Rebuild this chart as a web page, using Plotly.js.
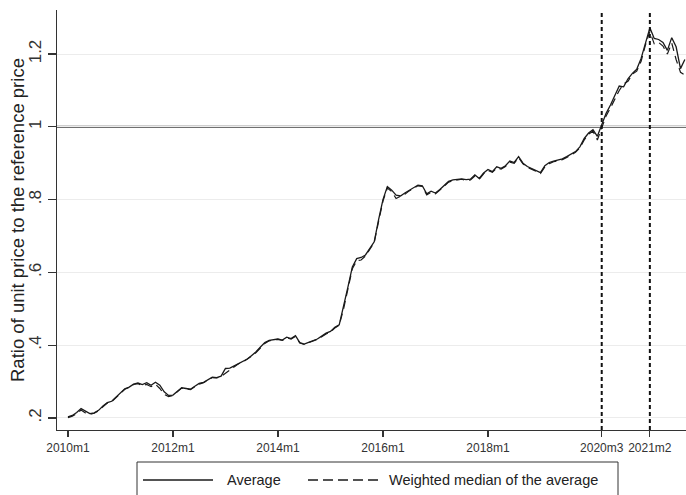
<!DOCTYPE html>
<html>
<head>
<meta charset="utf-8">
<script src="https://cdn.plot.ly/plotly-3.0.1.min.js"></script>
<style>html,body{margin:0;padding:0;background:#fff;}#chart{width:686px;height:495px;}</style>
</head>
<body>
<div id="chart"></div>
<script>
// Monthly index 0 = 2010m1
const startYear = 2010;
const nMonths = 142; // 2010m1 .. 2021m10

const average = [
0.203,0.207,0.215,0.226,0.219,0.212,0.214,0.221,0.233,0.242,0.246,0.258,
0.270,0.280,0.285,0.293,0.296,0.292,0.297,0.290,0.298,0.290,0.272,0.262,
0.263,0.272,0.283,0.281,0.279,0.287,0.295,0.298,0.304,0.312,0.311,0.315,
0.336,0.337,0.343,0.350,0.355,0.362,0.372,0.382,0.395,0.407,0.413,0.416,
0.417,0.414,0.422,0.418,0.426,0.407,0.403,0.408,0.412,0.417,0.425,0.433,
0.438,0.449,0.456,0.505,0.560,0.615,0.638,0.641,0.648,0.666,0.684,0.745,
0.800,0.836,0.826,0.812,0.810,0.818,0.826,0.834,0.840,0.838,0.816,0.823,
0.818,0.828,0.840,0.850,0.854,0.856,0.857,0.855,0.856,0.868,0.858,0.873,
0.883,0.877,0.890,0.886,0.893,0.906,0.902,0.918,0.900,0.891,0.886,0.880,
0.874,0.893,0.902,0.906,0.909,0.912,0.918,0.924,0.932,0.945,0.968,0.983,
0.992,0.974,1.005,1.037,1.060,1.085,1.112,1.110,1.132,1.147,1.158,1.188,
1.232,1.272,1.243,1.240,1.232,1.210,1.245,1.220,1.160,1.185
];

const weightedMedian = [
0.201,0.205,0.212,0.222,0.214,0.210,0.213,0.220,0.231,0.241,0.245,0.257,
0.269,0.279,0.284,0.292,0.294,0.289,0.292,0.286,0.293,0.281,0.265,0.259,
0.262,0.271,0.282,0.280,0.278,0.286,0.293,0.297,0.303,0.311,0.310,0.314,
0.323,0.332,0.342,0.349,0.354,0.361,0.370,0.380,0.393,0.405,0.412,0.415,
0.416,0.413,0.420,0.417,0.424,0.406,0.402,0.407,0.411,0.416,0.423,0.431,
0.436,0.447,0.455,0.500,0.555,0.610,0.632,0.634,0.645,0.663,0.682,0.740,
0.796,0.832,0.822,0.803,0.808,0.815,0.824,0.832,0.838,0.836,0.813,0.820,
0.816,0.826,0.838,0.848,0.852,0.854,0.856,0.853,0.854,0.865,0.856,0.871,
0.880,0.875,0.887,0.884,0.891,0.903,0.900,0.915,0.898,0.889,0.884,0.878,
0.872,0.890,0.899,0.904,0.907,0.910,0.916,0.922,0.930,0.942,0.964,0.980,
0.988,0.964,0.998,1.030,1.052,1.078,1.100,1.118,1.125,1.145,1.153,1.180,
1.225,1.262,1.228,1.232,1.222,1.200,1.230,1.185,1.150,1.142
];

const seriesNames = ["Average", "Weighted median of the average"];
const yTitle = "Ratio of unit price to the reference price";
const tickMonths = [0, 24, 48, 72, 96, 122, 133];
const tickLabels = ["2010m1","2012m1","2014m1","2016m1","2018m1","2020m3","2021m2"];
const eventMonths = [122, 133];
const yTicks = [0.2, 0.4, 0.6, 0.8, 1.0, 1.2];
const yTickLabels = [".2", ".4", ".6", ".8", "1", "1.2"];
const referenceLevel = 1;

const months = [];
for (let i = 0; i < nMonths; i++) months.push(i);

const FONT = "Liberation Sans, Arial, Helvetica, sans-serif";
const solidLine = {color: "#1a1a1a", width: 1.3};
const dashLine = {color: "#1a1a1a", width: 1.2, dash: "8px,5px"};

const traces = [
  {x: months, y: average, type: "scatter", mode: "lines", name: seriesNames[0], line: solidLine},
  {x: months, y: weightedMedian, type: "scatter", mode: "lines", name: seriesNames[1], line: dashLine}
];

const shapes = [
  {type: "line", xref: "paper", yref: "y", x0: 0, x1: 1, y0: referenceLevel, y1: referenceLevel,
   line: {color: "#404040", width: 2}, layer: "between"}
];
eventMonths.forEach(m => shapes.push({
  type: "line", xref: "x", yref: "paper", x0: m, x1: m, y0: 0, y1: 1,
  line: {color: "#111", width: 2, dash: "4px,3px"}
}));

// Legend box (Stata style), placed below the plot in paper coordinates
const W = 629, H = 420; // plot area size in px
const px = v => (v - 57) / W;      // page x -> paper x
const py = v => (430 - v) / H;     // page y -> paper y
shapes.push({type: "rect", xref: "paper", yref: "paper", x0: px(137), x1: px(618), y0: py(462), y1: py(520),
  line: {color: "#333", width: 1}, fillcolor: "rgba(0,0,0,0)"});
shapes.push({type: "line", xref: "paper", yref: "paper", x0: px(143), x1: px(213), y0: py(480), y1: py(480),
  line: {color: "#1a1a1a", width: 1.3}});
shapes.push({type: "line", xref: "paper", yref: "paper", x0: px(308), x1: px(378), y0: py(480), y1: py(480),
  line: {color: "#1a1a1a", width: 1.3, dash: "10px,5px"}});

const annotations = [
  {xref: "paper", yref: "paper", x: px(225), y: py(480), xanchor: "left", yanchor: "middle",
   text: seriesNames[0], showarrow: false, font: {size: 14.5, color: "#222", family: FONT}},
  {xref: "paper", yref: "paper", x: px(387), y: py(480), xanchor: "left", yanchor: "middle",
   text: seriesNames[1], showarrow: false, font: {size: 14.5, color: "#222", family: FONT}},
  {xref: "paper", yref: "paper", x: px(17), y: 0.5, xanchor: "center", yanchor: "middle",
   textangle: -90, text: yTitle, showarrow: false, font: {size: 18.5, color: "#222", family: FONT}}
];

const layout = {
  width: 686, height: 495,
  margin: {l: 57, r: 0, t: 10, b: 65},
  paper_bgcolor: "#fff", plot_bgcolor: "#fff",
  font: {family: FONT, color: "#222"},
  showlegend: false,
  xaxis: {
    range: [-2.5, 141.26], tickvals: tickMonths, ticktext: tickLabels,
    showgrid: false, zeroline: false, showline: true, linecolor: "#333", linewidth: 1.2,
    ticks: "outside", ticklen: 6, tickcolor: "#333", tickwidth: 1.2,
    tickfont: {size: 12, color: "#333"}
  },
  yaxis: {
    range: [0.167, 1.321], tickvals: yTicks, ticktext: yTickLabels, tickangle: -90,
    showgrid: true, gridcolor: "#ececec", gridwidth: 1, zeroline: false,
    showline: true, linecolor: "#333", linewidth: 1.2,
    ticks: "outside", ticklen: 8, tickcolor: "#333", tickwidth: 1.2,
    tickfont: {size: 17, color: "#333"}
  },
  shapes: shapes,
  annotations: annotations
};

Plotly.newPlot("chart", traces, layout, {displayModeBar: false, staticPlot: true});
</script>
</body>
</html>
